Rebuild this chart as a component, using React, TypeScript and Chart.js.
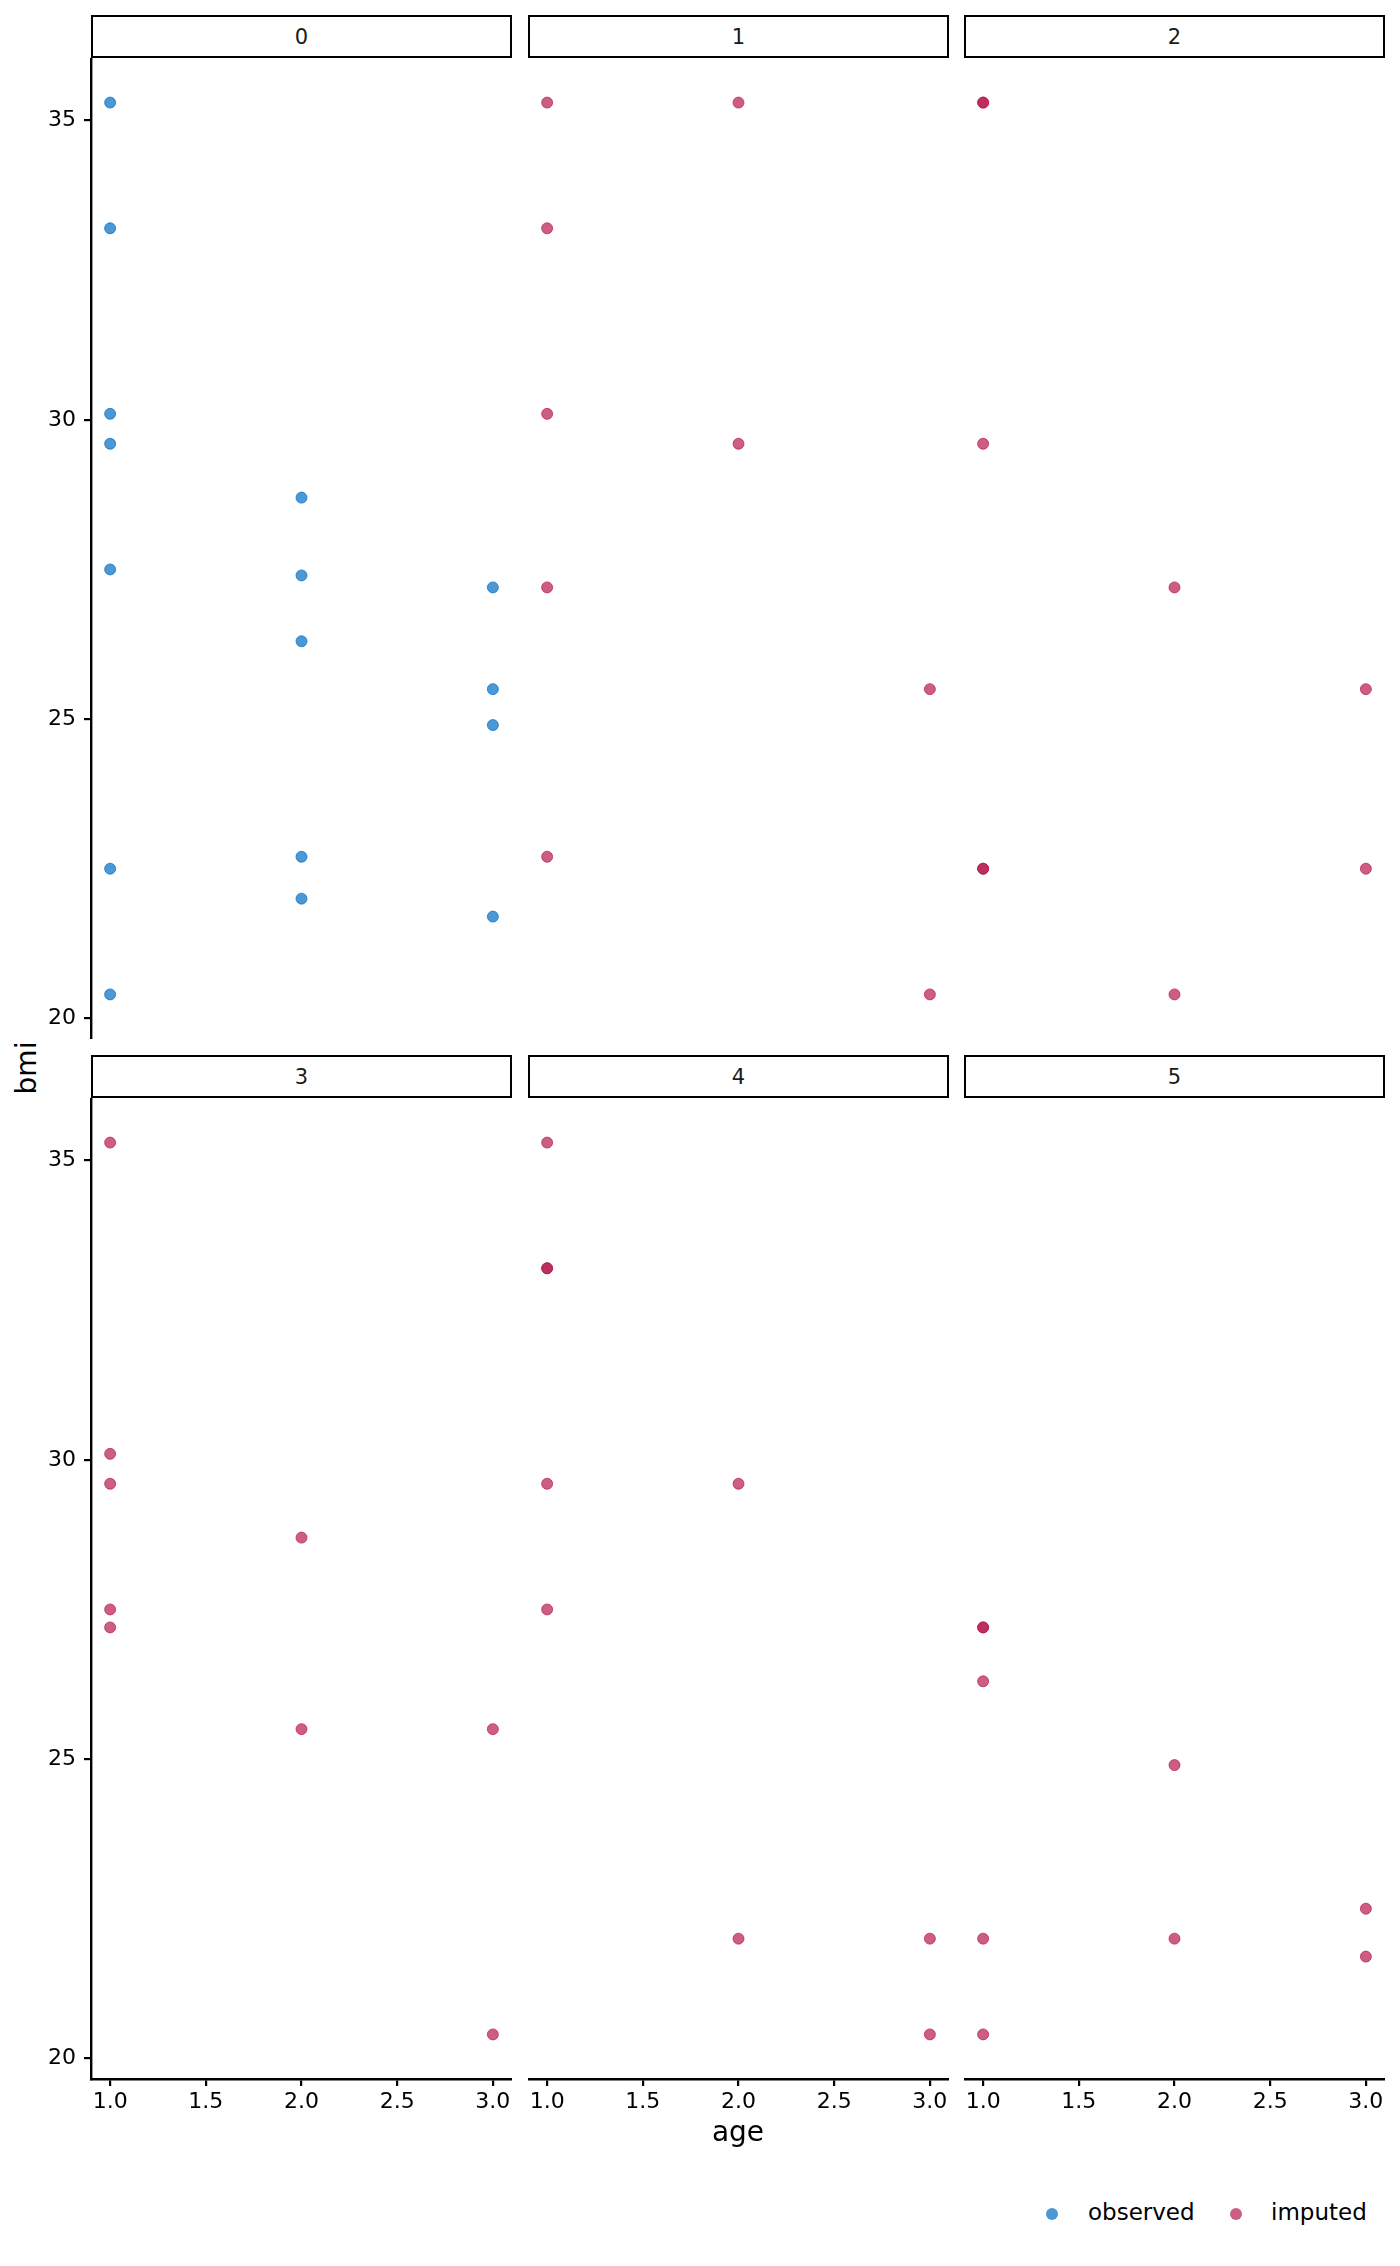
import { useEffect, useRef } from 'react';
import { Chart, registerables } from 'chart.js';

Chart.register(...registerables);

// facet labels (0 = observed data, 1..5 = imputations)
const PANELS = ['0', '1', '2', '3', '4', '5'];
const SERIES = ['observed', 'imputed'];
const COLORS = ['#006CC2B3', '#B61A51B3'];

// observed values
const AGE_OBS = [1, 1, 1, 1, 1, 1, 1, 2, 2, 2, 2, 2, 3, 3, 3, 3];
const BMI_OBS = [35.3, 33.2, 30.1, 29.6, 27.5, 22.5, 20.4, 28.7, 27.4, 26.3, 22.7, 22.0, 27.2, 25.5, 24.9, 21.7];

// imputed values, same ages in every imputation
const AGE_IMP = [1, 1, 1, 1, 1, 2, 2, 3, 3];
const BMI_IMP_1 = [35.3, 33.2, 30.1, 27.2, 22.7, 35.3, 29.6, 25.5, 20.4];
const BMI_IMP_2 = [35.3, 35.3, 29.6, 22.5, 22.5, 27.2, 20.4, 25.5, 22.5];
const BMI_IMP_3 = [35.3, 30.1, 29.6, 27.5, 27.2, 28.7, 25.5, 25.5, 20.4];
const BMI_IMP_4 = [35.3, 33.2, 33.2, 29.6, 27.5, 29.6, 22.0, 22.0, 20.4];
const BMI_IMP_5 = [27.2, 27.2, 26.3, 22.0, 20.4, 24.9, 22.0, 22.5, 21.7];

const X_TICKS = [1, 1.5, 2, 2.5, 3];
const X_TICK_LABELS = ['1.0', '1.5', '2.0', '2.5', '3.0'];
const Y_TICKS = [20, 25, 30, 35];
const Y_TICK_LABELS = ['20', '25', '30', '35'];

const PANEL_DATA = [
  { ages: AGE_OBS, bmi: BMI_OBS, series: 0 },
  { ages: AGE_IMP, bmi: BMI_IMP_1, series: 1 },
  { ages: AGE_IMP, bmi: BMI_IMP_2, series: 1 },
  { ages: AGE_IMP, bmi: BMI_IMP_3, series: 1 },
  { ages: AGE_IMP, bmi: BMI_IMP_4, series: 1 },
  { ages: AGE_IMP, bmi: BMI_IMP_5, series: 1 },
];

// layout
const FONT = '"DejaVu Sans", sans-serif';
const COL_LEFT = [91, 528, 964];
const PANEL_W = 421;
const STRIP_TOP = [15, 1055];
const STRIP_H = 43;
const PLOT_H = 981;
const Y_AXIS_W = 91;
const X_AXIS_H = 50;

// ggplot-like range: data range plus 5% (y) / 10% (x)
const allBmi = [BMI_OBS, BMI_IMP_1, BMI_IMP_2, BMI_IMP_3, BMI_IMP_4, BMI_IMP_5].flat();
const Y_MIN_D = Math.min(...allBmi);
const Y_MAX_D = Math.max(...allBmi);
const Y_MIN = Y_MIN_D - 0.05 * (Y_MAX_D - Y_MIN_D);
const Y_MAX = Y_MAX_D + 0.05 * (Y_MAX_D - Y_MIN_D);
const X_MIN = 0.9;
const X_MAX = 3.1;

function Panel({ index }: { index: number }) {
  const canvasRef = useRef<HTMLCanvasElement>(null);
  const chartRef = useRef<Chart | null>(null);

  const col = index % 3;
  const row = Math.floor(index / 3);
  const hasY = col === 0;
  const hasX = row === 1;
  const left = COL_LEFT[col] - (hasY ? Y_AXIS_W : 0);
  const top = STRIP_TOP[row] + STRIP_H;
  const width = PANEL_W + (hasY ? Y_AXIS_W : 0);
  const height = PLOT_H + (hasX ? X_AXIS_H : 0);

  useEffect(() => {
    if (!canvasRef.current) return;
    if (chartRef.current) chartRef.current.destroy();
    const ctx = canvasRef.current.getContext('2d');
    if (!ctx) return;

    const p = PANEL_DATA[index];
    const color = COLORS[p.series];
    const tickFont = { family: FONT, size: 22 };
    const axisGrid = {
      display: true,
      drawOnChartArea: false,
      drawTicks: true,
      tickLength: 7,
      color: '#000',
      lineWidth: 2.2,
    };

    chartRef.current = new Chart(ctx, {
      type: 'scatter',
      data: {
        datasets: [{
          label: SERIES[p.series],
          data: p.ages.map((a, i) => ({ x: a, y: p.bmi[i] })),
          backgroundColor: color,
          borderColor: color,
          borderWidth: 1,
          pointRadius: 5.5,
        }],
      },
      options: {
        responsive: false,
        animation: false,
        events: [],
        layout: { padding: 0, autoPadding: false },
        plugins: {
          legend: { display: false },
          tooltip: { enabled: false },
        },
        scales: {
          x: {
            type: 'linear',
            min: X_MIN,
            max: X_MAX,
            display: hasX,
            afterBuildTicks: (s: any) => { s.ticks = X_TICKS.map(v => ({ value: v })); },
            afterFit: (s: any) => {
              s.height = hasX ? X_AXIS_H : 0;
              s.paddingLeft = 0; s.paddingRight = 0;
            },
            ticks: {
              callback: (v: any) => X_TICK_LABELS[X_TICKS.indexOf(Number(v))],
              color: '#000',
              font: tickFont,
              padding: 3,
              maxRotation: 0,
              autoSkip: false,
            },
            grid: axisGrid,
            border: { display: true, color: '#000', width: 2.4 },
          },
          y: {
            type: 'linear',
            min: Y_MIN,
            max: Y_MAX,
            display: hasY,
            afterBuildTicks: (s: any) => { s.ticks = Y_TICKS.map(v => ({ value: v })); },
            afterFit: (s: any) => {
              s.width = hasY ? Y_AXIS_W : 0;
              s.paddingTop = 0; s.paddingBottom = 0;
            },
            ticks: {
              callback: (v: any) => Y_TICK_LABELS[Y_TICKS.indexOf(Number(v))],
              color: '#000',
              font: tickFont,
              padding: 8,
              autoSkip: false,
            },
            grid: axisGrid,
            border: { display: true, color: '#000', width: 2.4 },
          },
        },
      },
    });

    return () => {
      if (chartRef.current) {
        chartRef.current.destroy();
        chartRef.current = null;
      }
    };
  }, [index]);

  return (
    <>
      <div
        style={{
          position: 'absolute',
          left: COL_LEFT[col],
          top: STRIP_TOP[row],
          width: PANEL_W,
          height: STRIP_H,
          boxSizing: 'border-box',
          border: '2.4px solid #000',
          background: '#fff',
          display: 'flex',
          alignItems: 'center',
          justifyContent: 'center',
          fontFamily: FONT,
          fontSize: 21,
          color: '#1a1a1a',
        }}
      >
        {PANELS[index]}
      </div>
      <canvas
        ref={canvasRef}
        width={width}
        height={height}
        style={{ position: 'absolute', left, top, width, height }}
      />
    </>
  );
}

export default function App() {
  return (
    <div
      style={{
        position: 'absolute',
        left: 0,
        top: 0,
        width: 1400,
        height: 2266,
        background: '#fff',
        fontFamily: FONT,
        overflow: 'hidden',
      }}
    >
      {PANELS.map((_, i) => <Panel key={i} index={i} />)}

      {/* shared axis titles */}
      <div
        style={{
          position: 'absolute', left: 27, top: 1068,
          transform: 'translate(-50%, -50%) rotate(-90deg)',
          fontSize: 28, lineHeight: 1, whiteSpace: 'nowrap', color: '#000',
        }}
      >
        bmi
      </div>
      <div
        style={{
          position: 'absolute', left: 738, top: 2132,
          transform: 'translate(-50%, -50%)',
          fontSize: 28, lineHeight: 1, whiteSpace: 'nowrap', color: '#000',
        }}
      >
        age
      </div>

      {/* legend */}
      {SERIES.map((s, i) => (
        <div key={s}>
          <div
            style={{
              position: 'absolute',
              left: [1052, 1236][i] - 6,
              top: 2214 - 6,
              width: 12,
              height: 12,
              borderRadius: '50%',
              background: COLORS[i],
            }}
          />
          <div
            style={{
              position: 'absolute',
              left: [1088, 1271][i],
              top: 2212,
              transform: 'translateY(-50%)',
              fontSize: 23,
              lineHeight: 1,
              whiteSpace: 'nowrap',
              color: '#000',
            }}
          >
            {s}
          </div>
        </div>
      ))}
    </div>
  );
}
